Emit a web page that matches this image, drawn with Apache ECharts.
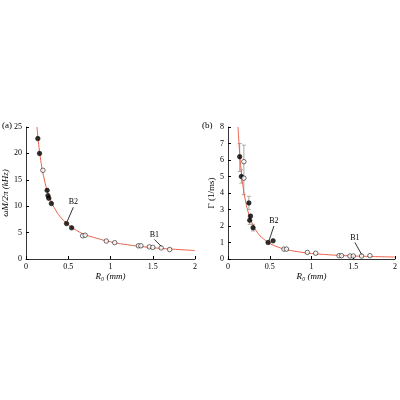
<!DOCTYPE html><html><head><script src="https://cdn.jsdelivr.net/npm/echarts@6/dist/echarts.min.js"></script></head><body style="margin:0"><div id="c" style="width:400px;height:400px"></div><script>
const aFilled=[[0.14,22.8],[0.16,20],[0.25,13],[0.26,12],[0.27,11.5],[0.3,10.5],[0.48,6.7],[0.54,5.9]];
const aOpen=[[0.2,16.8],[0.67,4.4],[0.7,4.5],[0.95,3.4],[1.05,3.1],[1.33,2.5],[1.36,2.5],[1.46,2.3],[1.5,2.2],[1.6,2.1],[1.7,1.8]];
const aFit=[[0.13,25],[0.15,21.7],[0.18,18.1],[0.2,16.3],[0.25,13],[0.3,10.8],[0.35,9.3],[0.4,8.1],[0.5,6.5],[0.6,5.4],[0.7,4.6],[0.8,4.1],[1.0,3.25],[1.2,2.7],[1.4,2.3],[1.6,2.0],[1.8,1.8],[2.0,1.6]];
const bFilled=[[0.14,6.2],[0.16,5.0],[0.25,3.4],[0.26,2.35],[0.27,2.6],[0.3,1.9],[0.48,1.0],[0.54,1.1]];
const bOpen=[[0.19,5.9],[0.19,4.9],[0.67,0.6],[0.7,0.6],[0.95,0.4],[1.05,0.35],[1.33,0.2],[1.36,0.2],[1.46,0.18],[1.5,0.18],[1.6,0.18],[1.7,0.2]];
const bErr=[[0.14,5.3,7.0],[0.16,4.6,5.4],[0.19,3.9,6.9],[0.25,3.0,3.8],[0.26,2.1,2.6],[0.3,1.7,2.1]];
const bFit=[[0.12,8],[0.14,6.4],[0.16,5.25],[0.18,4.4],[0.2,3.76],[0.25,2.69],[0.3,2.05],[0.35,1.62],[0.4,1.33],[0.5,0.95],[0.6,0.72],[0.7,0.57],[0.8,0.47],[1.0,0.336],[1.2,0.26],[1.4,0.2],[1.6,0.166],[1.8,0.14],[2.0,0.12]];
const arrA=[[[0.56,9.8],[0.49,7.2]],[[1.52,3.7],[1.6,2.4]]];
const arrB=[[[0.55,2.0],[0.49,1.1]],[[1.52,1.0],[1.6,0.28]]];
const F='Liberation Serif';
const ns={fontFamily:F,fontSize:9,color:'#000',fontStyle:'italic'};
const ax=(gi,max,iv,name)=>({gridIndex:gi,min:0,max:max,interval:iv,name:name,nameLocation:'middle',nameGap:14,nameTextStyle:ns,axisLine:{lineStyle:{color:'#000',width:0.8}},axisTick:{inside:true,length:3,lineStyle:{color:'#000'}},axisLabel:{fontFamily:F,fontSize:8,color:'#000',margin:4},splitLine:{show:false}});
const xa=gi=>Object.assign(ax(gi,2,0.5,'R₀ (mm)'),{nameGap:12,axisLabel:{fontFamily:F,fontSize:8,color:'#000',margin:4,formatter:v=>String(v)}});
const sc=(xi,d,fill)=>({type:'scatter',xAxisIndex:xi,yAxisIndex:xi,data:d,symbolSize:4.5,z:5,itemStyle:{color:fill?'#000':'#fff',borderColor:'#000',borderWidth:0.7}});
const fit=(xi,d)=>({type:'line',xAxisIndex:xi,yAxisIndex:xi,data:d,smooth:true,showSymbol:false,lineStyle:{color:'#e8604a',width:1}});
const arrows=(xi,arr,labels)=>arr.map((s,i)=>({type:'line',xAxisIndex:xi,yAxisIndex:xi,data:s,z:6,showSymbol:false,symbol:['none','arrow'],symbolSize:5,lineStyle:{color:'#000',width:0.8},
 markPoint:{symbol:'circle',symbolSize:0,data:[{coord:s[0],label:{show:true,formatter:labels[i],position:'top',distance:1,fontFamily:F,fontSize:8,color:'#000'}}]}}));
const opt={animation:false,
grid:[{left:26,right:205,top:127,bottom:141},{left:228,right:2,top:127,bottom:141}],
xAxis:[xa(0),xa(1)],
yAxis:[Object.assign(ax(0,25,5,'ωM/2π (kHz)'),{nameGap:16}),Object.assign(ax(1,8,1,'Γ (1/ms)'),{nameGap:12,nameTextStyle:Object.assign({},ns,{fontStyle:'normal'})})],
graphic:[{type:'text',left:2,top:121,style:{text:'(a)',font:'9px '+F}},{type:'text',left:202,top:121,style:{text:'(b)',font:'9px '+F}}],
series:[fit(0,aFit),fit(1,bFit),
{type:'custom',xAxisIndex:1,yAxisIndex:1,data:bErr,z:2,renderItem:(p,api)=>{const a=api.coord([api.value(0),api.value(1)]),b=api.coord([api.value(0),api.value(2)]);const st={stroke:'#aaa',lineWidth:1};return{type:'group',children:[{type:'line',shape:{x1:a[0],y1:a[1],x2:b[0],y2:b[1]},style:st},{type:'line',shape:{x1:a[0]-2,y1:a[1],x2:a[0]+2,y2:a[1]},style:st},{type:'line',shape:{x1:b[0]-2,y1:b[1],x2:b[0]+2,y2:b[1]},style:st}]};}},
sc(0,aFilled,true),sc(0,aOpen,false),sc(1,bFilled,true),sc(1,bOpen,false),
...arrows(0,arrA,['B2','B1']),...arrows(1,arrB,['B2','B1'])]};
echarts.init(document.getElementById('c')).setOption(opt);
</script></body></html>
